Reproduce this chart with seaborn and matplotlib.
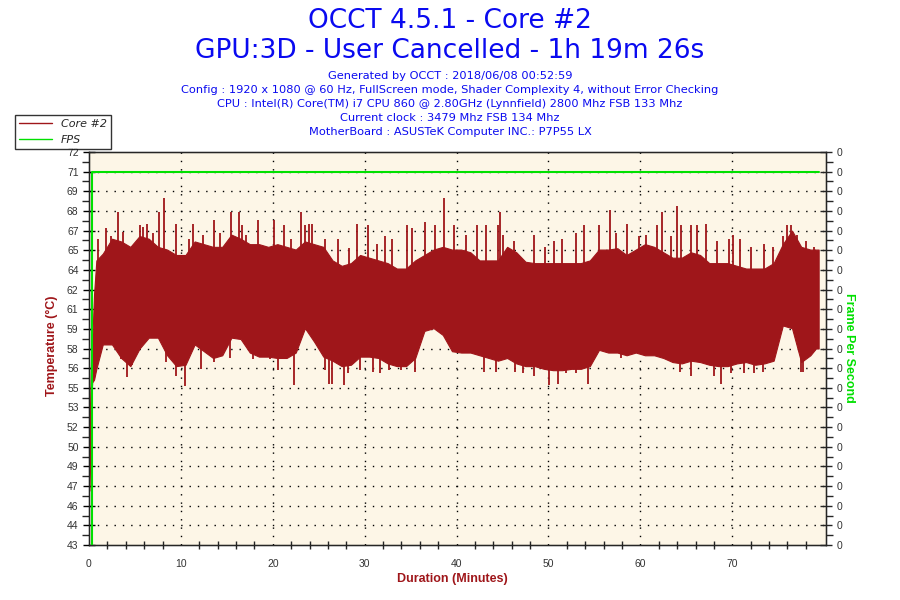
import numpy as np
import matplotlib
matplotlib.use("Agg")
import matplotlib.pyplot as plt
from matplotlib.lines import Line2D
import seaborn as sns

# temperature band (minute, low edge, high edge)
core_t = [0.02, 0.12, 0.22, 0.35, 0.55, 0.8] + [m + 0.5 for m in range(1, 79)] + [79.1, 79.4]
core_lo = [47.0, 49.5, 53.5, 55.0, 55.2, 56.0,
           57.8, 57.8, 56.8, 56.2, 57.5, 58.3, 58.3, 57.0, 56.2, 56.3,
           57.8, 57.3, 56.8, 57.0, 58.3, 58.2, 57.2, 56.9, 56.9, 56.8,
           56.8, 57.2, 59.0, 58.0, 56.9, 56.6, 56.2, 56.3, 56.9, 56.9,
           56.8, 56.4, 56.2, 56.2, 56.8, 58.8, 59.0, 58.5, 57.3, 57.2,
           57.2, 57.0, 56.8, 56.6, 56.8, 56.4, 56.2, 56.2, 56.0, 55.9,
           55.9, 56.0, 56.0, 56.2, 57.4, 57.2, 57.2, 57.0, 57.2, 57.0,
           57.0, 56.8, 56.5, 56.4, 56.6, 56.5, 56.3, 56.2, 56.2, 56.4,
           56.5, 56.3, 56.4, 56.6, 59.2, 59.0, 56.5, 57.0, 57.5, 57.5]
core_hi = [52.5, 53.5, 56.5, 58.0, 61.5, 64.0,
           64.5, 65.6, 65.4, 65.0, 65.8, 65.6, 65.0, 64.8, 64.4, 64.4,
           65.4, 65.2, 65.0, 65.0, 65.9, 65.6, 65.2, 65.2, 65.0, 65.2,
           65.0, 64.8, 65.4, 65.2, 65.0, 64.0, 63.6, 63.8, 64.4, 64.2,
           64.0, 63.8, 63.4, 63.4, 64.0, 64.4, 64.8, 65.0, 64.8, 64.8,
           64.6, 64.0, 64.0, 64.0, 65.0, 64.6, 63.9, 63.8, 63.8, 63.8,
           63.8, 63.8, 63.8, 64.0, 64.8, 64.8, 64.9, 64.4, 64.8, 65.2,
           65.0, 64.6, 64.2, 64.2, 64.6, 64.4, 63.8, 63.8, 63.8, 63.6,
           63.4, 63.4, 63.4, 63.8, 65.2, 66.2, 65.0, 64.8, 64.8, 64.8]

# isolated peaks above the band (minute, value)
spike_t = [0.94, 1.85, 2.4, 3.2, 3.7, 4.1, 5.5, 5.9, 6.3, 7.0, 7.6, 8.2, 9.5,
           10.9, 11.3, 12.4, 13.6, 14.3, 15.5, 16.3, 16.7, 17.1, 18.4, 19.4,
           20.1, 21.2, 22.0, 23.1, 23.5, 23.9, 24.3, 25.7, 27.1, 28.3, 29.2,
           30.4, 31.3, 32.2, 33.0, 34.6, 35.2, 36.6, 37.7, 38.6, 39.7, 41.0,
           42.2, 43.2, 44.5, 44.7, 45.1, 46.3, 48.4, 49.6, 50.6, 51.5, 53.0,
           53.9, 55.5, 56.7, 57.4, 58.5, 59.9, 60.6, 61.8, 62.4, 63.3, 64.0,
           64.4, 65.5, 66.2, 67.1, 68.3, 69.6, 70.1, 70.8, 72.0, 73.4, 74.4,
           75.5, 76.0, 76.4, 77.0, 78.0, 78.9]
spike_v = [65.6, 66.4, 65.8, 67.6, 66.1, 65.0, 66.6, 66.5, 66.7, 66.0, 67.6,
           68.6, 66.7, 65.6, 66.7, 65.9, 67.0, 66.0, 67.6, 67.6, 66.6, 65.9,
           67.0, 65.0, 67.0, 66.6, 65.6, 67.6, 66.6, 66.7, 66.7, 65.6, 65.6,
           64.9, 66.7, 66.6, 65.2, 65.8, 65.6, 66.6, 66.4, 66.8, 66.6, 68.6,
           66.6, 65.9, 66.6, 66.6, 66.6, 67.6, 65.9, 65.4, 65.9, 65.0, 65.4,
           65.6, 66.0, 66.6, 66.6, 67.7, 66.0, 66.7, 65.8, 65.9, 66.6, 67.6,
           65.8, 68.0, 66.6, 66.6, 66.6, 66.7, 65.4, 65.6, 65.9, 65.6, 65.0,
           65.2, 65.0, 65.8, 66.6, 66.6, 65.9, 65.4, 65.0]
# isolated dips below the band (minute, value)
dip_t = [3.5, 4.1, 4.7, 8.4, 9.5, 10.4, 12.2, 13.6, 15.3, 17.8, 19.7, 20.6,
         22.3, 25.7, 26.1, 26.4, 27.7, 28.2, 29.5, 30.9, 31.7, 32.6, 34.0,
         35.5, 43.0, 44.3, 46.4, 47.2, 48.4, 50.1, 51.0, 51.9, 53.0, 54.3,
         57.9, 64.3, 65.5, 68.0, 68.8, 69.9, 71.3, 72.4, 73.3, 77.5, 77.7]
dip_v = [56.7, 55.4, 56.3, 56.5, 55.5, 54.7, 56.0, 56.5, 56.8, 56.7, 56.7,
         55.9, 54.8, 55.9, 54.9, 54.9, 54.8, 55.7, 55.9, 55.8, 55.7, 55.9,
         55.9, 55.8, 55.8, 55.8, 55.8, 55.7, 55.5, 54.8, 54.9, 55.7, 55.7,
         54.9, 56.8, 55.8, 55.5, 55.5, 54.9, 55.7, 55.7, 55.7, 55.8, 55.8,
         55.8]

# FPS trace (drawn at the "71" gridline like the original)
fps_t = [0.3, 0.3, 79.4]
fps_v = [43.0, 70.55, 70.55]

y_labels = ["43", "44", "46", "47", "49", "50", "52", "53", "55", "56", "58",
            "59", "61", "62", "64", "65", "67", "68", "69", "71", "72"]
x_ticks = [0, 10, 20, 30, 40, 50, 60, 70]

title = ["OCCT 4.5.1 - Core #2", "GPU:3D - User Cancelled - 1h 19m 26s"]
info = ["Generated by OCCT : 2018/06/08 00:52:59",
        "Config : 1920 x 1080 @ 60 Hz, FullScreen mode, Shader Complexity 4, without Error Checking",
        "CPU : Intel(R) Core(TM) i7 CPU 860 @ 2.80GHz (Lynnfield) 2800 Mhz FSB 133 Mhz",
        "Current clock : 3479 Mhz FSB 134 Mhz",
        "MotherBoard : ASUSTeK Computer INC.: P7P55 LX"]

red = "#9F161A"
green = "#00E000"
blue = "#0A0AF0"

sns.set_style("white")
plt.rcParams["font.family"] = ["DejaVu Sans"]

fig = plt.figure(figsize=(9, 6), dpi=100)
ax = fig.add_axes([89 / 900, 55 / 600, 737 / 900, 393 / 600])
ax.set_facecolor("#FDF6E7")

ymin, ymax = 43, 72
ax.set_xlim(0, 80.2)
ax.set_ylim(ymin, ymax)

yt = np.linspace(ymin, ymax, 21)
ax.set_yticks(yt)
ax.set_yticklabels(y_labels)
ax.set_yticks((yt[:-1] + yt[1:]) / 2, minor=True)
ax.set_xticks(x_ticks)
ax.set_xticks(np.arange(0, 80, 2), minor=True)

# temperature band + peaks / dips
ax.fill_between(core_t, core_lo, core_hi, color=red, lw=0.8, edgecolor=red, zorder=3)
lo_s = np.interp(spike_t, core_t, core_lo)
ax.vlines(spike_t, lo_s + 1.0, spike_v, color=red, lw=1.3, zorder=3)
hi_d = np.interp(dip_t, core_t, core_hi)
ax.vlines(dip_t, dip_v, hi_d - 1.0, color=red, lw=1.3, zorder=3)

sns.lineplot(x=fps_t, y=fps_v, ax=ax, color=green, lw=1.5, sort=False,
             estimator=None, zorder=4)

# dotted grid
for v in yt[1:-1]:
    ax.axhline(v, color="black", lw=1, ls=(0, (1, 5)), zorder=2)
for v in x_ticks[1:]:
    ax.axvline(v, color="black", lw=1, ls=(0, (1, 5)), zorder=2)

for s in ax.spines.values():
    s.set_color("black")
    s.set_linewidth(1)

ax.tick_params(axis="both", which="major", direction="inout", length=8,
               width=1, color="black", labelcolor="#333333")
ax.tick_params(axis="y", which="minor", direction="out", length=5, width=1, left=True)
ax.tick_params(axis="x", which="minor", direction="inout", length=6, width=1, bottom=True)
for lab in ax.get_yticklabels() + ax.get_xticklabels():
    lab.set_fontfamily("Liberation Sans")
    lab.set_fontsize(7.5)
ax.tick_params(axis="x", pad=6)

ax2 = ax.twinx()
ax2.set_ylim(ymin, ymax)
ax2.set_yticks(yt)
ax2.set_yticklabels(["0"] * len(yt))
ax2.set_yticks((yt[:-1] + yt[1:]) / 2, minor=True)
ax2.tick_params(axis="y", which="major", direction="inout", length=8, width=1,
                labelcolor="#333333")
ax2.tick_params(axis="y", which="minor", direction="out", length=5, width=1, right=True)
for lab in ax2.get_yticklabels():
    lab.set_fontfamily("Liberation Sans")
    lab.set_fontsize(7.5)
ax2.grid(False)

fig.text(52 / 900, 1 - 346 / 600, "Temperature (°C)", rotation=90, ha="center",
         va="center", color=red, fontweight="bold", fontsize=9,
         family="Liberation Sans")
fig.text(849 / 900, 1 - 348 / 600, "Frame Per Second", rotation=-90, ha="center",
         va="center", color=green, fontweight="bold", fontsize=9,
         family="Liberation Sans")
fig.text(452 / 900, 1 - 579 / 600, "Duration (Minutes)", ha="center", va="center",
         color=red, fontweight="bold", fontsize=9, family="Liberation Sans")

fig.text(0.5, 1 - 21 / 600, title[0], ha="center", va="center", color=blue, fontsize=19)
fig.text(0.5, 1 - 51 / 600, title[1], ha="center", va="center", color=blue, fontsize=19)
for i, line in enumerate(info):
    fig.text(0.5, 1 - (76 + i * 13.9) / 600, line, ha="center", va="center",
             color=blue, fontsize=8.2)

handles = [Line2D([], [], color=red, lw=1), Line2D([], [], color=green, lw=1)]
leg = fig.legend(handles, ["Core #2", "FPS"], loc="upper left",
                 bbox_to_anchor=(15 / 900, 1 - 115 / 600), borderaxespad=0,
                 frameon=True, fancybox=False, borderpad=0.35, handlelength=3.0,
                 handletextpad=0.8, labelspacing=0.55,
                 prop=dict(style="italic", size=8))
leg.get_frame().set_edgecolor("black")
leg.get_frame().set_linewidth(1)

fig.savefig("out.png", dpi=100, facecolor="white")
